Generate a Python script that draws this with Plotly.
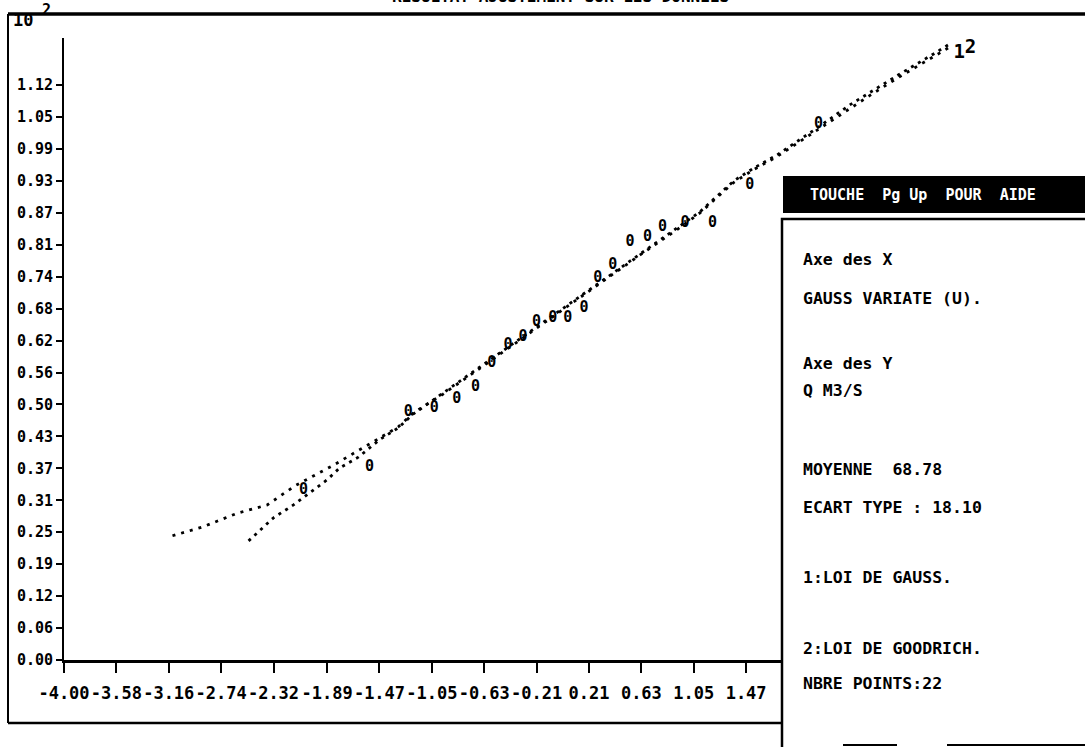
import numpy as np
import plotly.graph_objects as go

# ---------------- data ----------------
x_tick_text = ["-4.00", "-3.58", "-3.16", "-2.74", "-2.32", "-1.89", "-1.47",
               "-1.05", "-0.63", "-0.21", "0.21", "0.63", "1.05", "1.47"]
y_tick_text = ["0.00", "0.06", "0.12", "0.19", "0.25", "0.31", "0.37", "0.43",
               "0.50", "0.56", "0.62", "0.68", "0.74", "0.81", "0.87", "0.93",
               "0.99", "1.05", "1.12"]

# observed points (Gauss variate U, Q in 10^2 m3/s)
obs_u = [-2.08, -1.55, -1.24, -1.03, -0.85, -0.70, -0.57, -0.44, -0.32, -0.21, -0.08,
         0.04, 0.17, 0.28, 0.40, 0.54, 0.68, 0.80, 0.98, 1.20, 1.50, 2.05]
obs_q = [0.331, 0.376, 0.483, 0.491, 0.508, 0.532, 0.578, 0.614, 0.629, 0.658, 0.666,
         0.666, 0.686, 0.744, 0.769, 0.814, 0.824, 0.843, 0.851, 0.851, 0.925, 1.044]

# curve 1 : loi de Gauss
gauss_u = [-2.52, -2.32, -2.16, -2.03, -1.89, -1.79, -1.64, -1.47, -1.32, -1.20, -0.96,
           -0.66, -0.37, -0.02, 0.31, 0.62, 0.92, 1.10, 1.37, 1.53, 1.72, 2.05, 2.30,
           2.49, 2.70, 2.97, 3.09]
gauss_q = [0.232, 0.277, 0.302, 0.325, 0.351, 0.374, 0.395, 0.429, 0.452, 0.479, 0.520,
           0.571, 0.621, 0.680, 0.738, 0.791, 0.841, 0.873, 0.933, 0.958, 0.984, 1.038,
           1.081, 1.110, 1.141, 1.180, 1.198]

# curve 2 : loi de Goodrich
good_u = [-3.13, -2.89, -2.61, -2.37, -2.15, -1.85, -1.52, -1.32, -1.20, -0.96, -0.66,
          -0.37, -0.02, 0.31, 0.62, 0.92, 1.10, 1.37, 1.53, 1.72, 2.05, 2.30, 2.49,
          2.70, 2.97, 3.09]
good_q = [0.242, 0.259, 0.286, 0.302, 0.339, 0.378, 0.425, 0.454, 0.481, 0.518, 0.569,
          0.619, 0.678, 0.736, 0.789, 0.839, 0.871, 0.930, 0.955, 0.981, 1.034, 1.075,
          1.104, 1.136, 1.175, 1.192]

curve_labels = ["1", "2"]
curve_label_u = [3.18, 3.27]
curve_label_q = [1.182, 1.192]

panel_lines = ["Axe des X", "GAUSS VARIATE (U).", "Axe des Y", "Q M3/S",
               "MOYENNE  68.78", "ECART TYPE : 18.10", "1:LOI DE GAUSS.",
               "2:LOI DE GOODRICH.", "NBRE POINTS:22"]

# ---------------- geometry ----------------
W, H = 1085, 747
L, R, T, B = 64, 0, 38, 87
PW, PH = W - L - R, H - T - B
PX_PER_U = 124.7
PX_PER_Q = 513.4


def px2x(px):
    return (px - L) / PW


def py2y(py):
    return (H - B - py) / PH


MONO = "DejaVu Sans Mono"

fig = go.Figure()

fig.add_trace(go.Scatter(x=gauss_u, y=gauss_q, mode="lines",
                         line=dict(color="black", width=2.8, dash="3px,5px"),
                         name="1:LOI DE GAUSS", hoverinfo="skip"))
fig.add_trace(go.Scatter(x=good_u, y=good_q, mode="lines",
                         line=dict(color="black", width=2.8, dash="3px,6px"),
                         name="2:LOI DE GOODRICH", hoverinfo="skip"))
fig.add_trace(go.Scatter(x=obs_u, y=obs_q, mode="text", text=["0"] * len(obs_u),
                         textposition="middle center",
                         textfont=dict(family=MONO, size=15, color="black", weight="bold"),
                         name="observations"))
fig.add_trace(go.Scatter(x=curve_label_u, y=curve_label_q, mode="text", text=curve_labels,
                         textposition="middle center",
                         textfont=dict(family=MONO, size=19, color="black", weight="bold"),
                         name="labels", hoverinfo="skip"))

shapes = []
# outer frame
shapes.append(dict(type="line", xref="paper", yref="paper", x0=px2x(8), x1=px2x(1085),
                   y0=py2y(14), y1=py2y(14), line=dict(color="black", width=3.5)))
shapes.append(dict(type="line", xref="paper", yref="paper", x0=px2x(8), x1=px2x(8),
                   y0=py2y(14), y1=py2y(723), line=dict(color="black", width=2)))
shapes.append(dict(type="line", xref="paper", yref="paper", x0=px2x(8), x1=px2x(783),
                   y0=py2y(723), y1=py2y(723), line=dict(color="black", width=2.5)))
# info panel (white, covering the right part of the plot)
shapes.append(dict(type="rect", xref="paper", yref="paper", x0=px2x(782), x1=px2x(1090),
                   y0=py2y(219), y1=py2y(752), fillcolor="white", layer="above",
                   line=dict(color="black", width=2.5)))
shapes.append(dict(type="rect", xref="paper", yref="paper", x0=px2x(783), x1=px2x(1090),
                   y0=py2y(176), y1=py2y(213), fillcolor="black", layer="above",
                   line=dict(width=0)))
shapes.append(dict(type="line", xref="paper", yref="paper", x0=px2x(843), x1=px2x(897),
                   y0=py2y(745), y1=py2y(745), layer="above", line=dict(color="black", width=2)))
shapes.append(dict(type="line", xref="paper", yref="paper", x0=px2x(947), x1=px2x(1085),
                   y0=py2y(745), y1=py2y(745), layer="above", line=dict(color="black", width=2)))

annotations = []
annotations.append(dict(xref="paper", yref="paper", x=px2x(11), y=py2y(20), xanchor="left",
                        yanchor="middle", showarrow=False, text="10",
                        font=dict(family=MONO, size=17, color="black", weight="bold")))
annotations.append(dict(xref="paper", yref="paper", x=px2x(40), y=py2y(10), xanchor="left",
                        yanchor="middle", showarrow=False, text="2",
                        font=dict(family=MONO, size=15, color="black", weight="bold")))
annotations.append(dict(xref="paper", yref="paper", x=px2x(560), y=py2y(8), xanchor="center",
                        yanchor="bottom", showarrow=False,
                        text="RESULTAT AJUSTEMENT SUR LES DONNEES",
                        font=dict(family=MONO, size=16, color="black", weight="bold")))
annotations.append(dict(xref="paper", yref="paper", x=px2x(923), y=py2y(195), xanchor="center",
                        yanchor="middle", showarrow=False,
                        text="TOUCHE&nbsp;&nbsp;Pg&nbsp;Up&nbsp;&nbsp;POUR&nbsp;&nbsp;AIDE",
                        font=dict(family=MONO, size=15, color="white", weight="bold")))
panel_y = [259, 298, 363, 390, 469, 507, 577, 648, 683]
for txt, yy in zip(panel_lines, panel_y):
    annotations.append(dict(xref="paper", yref="paper", x=px2x(801), y=py2y(yy),
                            xanchor="left", yanchor="middle", showarrow=False,
                            text=txt.replace("  ", "&nbsp;&nbsp;"),
                            font=dict(family=MONO, size=16.5, color="black", weight="bold")))

fig.update_layout(
    width=W, height=H,
    margin=dict(l=L, r=R, t=T, b=B, pad=0),
    paper_bgcolor="white", plot_bgcolor="white",
    showlegend=False,
    shapes=shapes,
    annotations=annotations,
    xaxis=dict(range=[-4, -4 + PW / PX_PER_U],
               tickvals=[float(t) for t in x_tick_text], ticktext=x_tick_text,
               tickangle=0, ticklabelstandoff=6,
               showline=True, linecolor="black", linewidth=2.5,
               ticks="outside", ticklen=10, tickwidth=1.5, tickcolor="black",
               tickfont=dict(family=MONO, size=17, color="black", weight="bold"),
               showgrid=False, zeroline=False, fixedrange=True),
    yaxis=dict(range=[0, PH / PX_PER_Q],
               tickvals=list(np.linspace(0, 1.12, len(y_tick_text))), ticktext=y_tick_text,
               showline=True, linecolor="black", linewidth=2,
               ticks="outside", ticklen=6, tickwidth=2, tickcolor="black",
               tickfont=dict(family=MONO, size=15, color="black", weight="bold"),
               showgrid=False, zeroline=False, fixedrange=True),
)

fig.write_html("out.html", config={"displayModeBar": False},
               post_script="document.body.style.margin='0';document.body.style.overflow='hidden';")
